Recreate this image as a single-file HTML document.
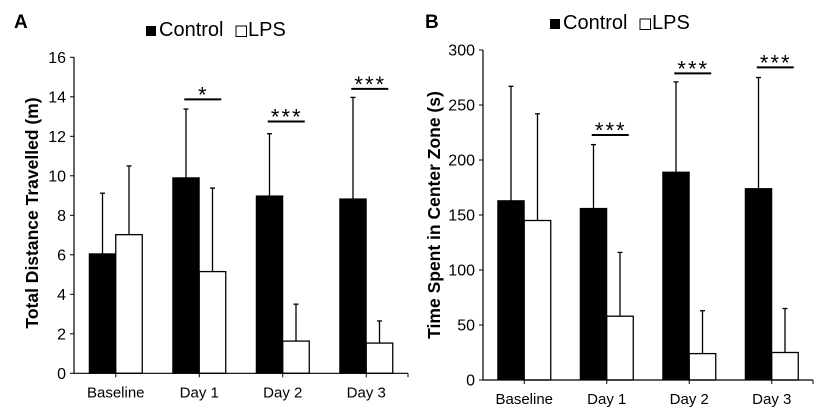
<!DOCTYPE html>
<html><head><meta charset="utf-8"><style>
html,body{margin:0;padding:0;background:#fff;}
svg{display:block;font-family:"Liberation Sans",Arial,sans-serif;}
</style></head><body>
<svg id="c" width="830" height="413" viewBox="0 0 830 413"></svg>
<script>
const categories = ["Baseline","Day 1","Day 2","Day 3"];
const controlA = [6.05, 9.9, 8.98, 8.83];
const controlAErr = [9.12, 13.38, 12.13, 13.97];
const lpsA = [7.02, 5.15, 1.63, 1.53];
const lpsAErr = [10.5, 9.38, 3.5, 2.65];
const sigA = ["", "*", "***", "***"];
const sigALevel = [null, 13.87, 12.75, 14.4];
const ticksA = [0,2,4,6,8,10,12,14,16];

const controlB = [163, 156, 189, 174];
const controlBErr = [267, 214, 271, 275];
const lpsB = [145, 58, 24, 25];
const lpsBErr = [242, 116, 63, 65];
const sigB = ["", "***", "***", "***"];
const sigBLevel = [null, 222.7, 278.8, 284.2];
const ticksB = [0,50,100,150,200,250,300];

const NS = "http://www.w3.org/2000/svg";
const svg = document.getElementById("c");
function mk(tag, attrs, parent, text){
  const e = document.createElementNS(NS, tag);
  for (const k in attrs) e.setAttribute(k, attrs[k]);
  if (text !== undefined) e.textContent = text;
  (parent||svg).appendChild(e);
  return e;
}

function panel(o){
  const g = mk("g", {});
  
  
  const y = v => o.y0 - (v - 0) / o.max * (o.y0 - o.yTop);
  const cw = (o.xR - o.x0) / categories.length;
  const cx = i => o.x0 + cw * (i + 0.5);
  const bw = 26.5;

  const L = mk("text", {x:o.letterX, y:o.letterY, "font-size":19, "font-weight":"bold"}, g, o.letter);
  
  

  const lg = mk("g", {}, g);
  
  
  const le1 = mk("g", {}, lg);
  
  
  mk("rect", {x:o.legX, y:o.legY-10, width:10, height:10, fill:"#000"}, le1);
  mk("text", {x:o.legX+13, y:o.legY, "font-size":20}, le1, "Control");
  const le2 = mk("g", {}, lg);
  
  
  mk("rect", {x:o.legX+90, y:o.legY-10, width:10.5, height:10.5, fill:"#fff", stroke:"#000", "stroke-width":1}, le2);
  mk("text", {x:o.legX+102, y:o.legY, "font-size":20}, le2, "LPS");

  const ya = mk("g", {}, g);
  
  
  mk("line", {x1:o.x0, y1:o.yTop, x2:o.x0, y2:o.y0, stroke:"#000", "stroke-width":1.2}, ya);
  o.ticks.forEach(t => {
    mk("line", {x1:o.x0-4, y1:y(t), x2:o.x0, y2:y(t), stroke:"#000", "stroke-width":1}, ya);
    const tl = mk("text", {x:o.x0-8, y:y(t)+5.5, "font-size":16, "text-anchor":"end"}, ya, t);
    
    
  });
  const yt = mk("text", {x:0, y:0, "font-size":17.5, "font-weight":"bold", "text-anchor":"middle",
    transform:`translate(${o.titleX},${o.titleY}) rotate(-90)`}, g, o.title);
  
  

  categories.forEach((c, i) => {
    const bg = mk("g", {}, g);
    
    
    const xc = cx(i) - bw, xl = cx(i);
    [[xc + bw/2, o.ctrl[i], o.ctrlErr[i]], [xl + bw/2, o.lps[i], o.lpsErr[i]]].forEach(([ex, v, e]) => {
      mk("line", {x1:ex, y1:y(v), x2:ex, y2:y(e), stroke:"#000", "stroke-width":1.3}, bg);
      mk("line", {x1:ex-2.5, y1:y(e), x2:ex+2.5, y2:y(e), stroke:"#000", "stroke-width":1.3}, bg);
    });
    const b1 = mk("rect", {x:xc, y:y(o.ctrl[i]), width:bw, height:o.y0 - y(o.ctrl[i]), fill:"#000", stroke:"#000", "stroke-width":1}, bg);
    
    
    const b2 = mk("rect", {x:xl, y:y(o.lps[i]), width:bw, height:o.y0 - y(o.lps[i]), fill:"#fff", stroke:"#000", "stroke-width":1.3}, bg);
    
    
    if (o.sig[i]) {
      const sg = mk("g", {}, g);
      
      
      const sy = y(o.sigLvl[i]);
      mk("line", {x1:cx(i)-15, y1:sy, x2:cx(i)+22, y2:sy, stroke:"#000", "stroke-width":2}, sg);
      mk("text", {x:cx(i)+4, y:sy+3, "font-size":22, "text-anchor":"middle", "letter-spacing":"2"}, sg, o.sig[i]);
    }
  });

  const xa = mk("g", {}, g);
  
  
  mk("line", {x1:o.x0, y1:o.y0, x2:o.xR, y2:o.y0, stroke:"#000", "stroke-width":1.2}, xa);
  categories.forEach((c, i) => {
    mk("line", {x1:cx(i), y1:o.y0, x2:cx(i), y2:o.y0+4, stroke:"#000", "stroke-width":1}, xa);
    const t = mk("text", {x:cx(i), y:o.y0+24, "font-size":15, "text-anchor":"middle"}, xa, c);
    
    
  });
  mk("line", {x1:o.xR, y1:o.y0, x2:o.xR, y2:o.y0+4, stroke:"#000", "stroke-width":1}, xa);
}

panel({name:"panel-a-distance", letter:"A", letterX:14, letterY:28, legX:146, legY:36,
  x0:74, xR:408, y0:373.3, yTop:57.3, max:16, ticks:ticksA,
  title:"Total Distance Travelled (m)", titleX:38, titleY:213,
  ctrl:controlA, ctrlErr:controlAErr, lps:lpsA, lpsErr:lpsAErr, sig:sigA, sigLvl:sigALevel});
panel({name:"panel-b-center-time", letter:"B", letterX:425, letterY:28, legX:550, legY:29,
  x0:483, xR:813, y0:380, yTop:50, max:300, ticks:ticksB,
  title:"Time Spent in Center Zone (s)", titleX:440, titleY:215,
  ctrl:controlB, ctrlErr:controlBErr, lps:lpsB, lpsErr:lpsBErr, sig:sigB, sigLvl:sigBLevel});
</script>
</body></html>
